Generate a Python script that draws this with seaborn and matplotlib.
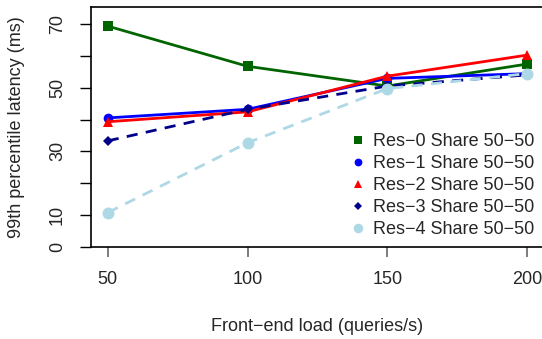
import numpy as np
import pandas as pd
import matplotlib
matplotlib.use("Agg")
import matplotlib.pyplot as plt
import seaborn as sns
from matplotlib.lines import Line2D

sns.set_style("white")
plt.rcParams['font.family'] = ['Liberation Sans', 'DejaVu Sans']

loads = [50, 100, 150, 200]
series_names = ["Res\u22120 Share 50\u221250", "Res\u22121 Share 50\u221250",
                "Res\u22122 Share 50\u221250", "Res\u22123 Share 50\u221250",
                "Res\u22124 Share 50\u221250"]
res0 = [69.3, 56.7, 50.5, 57.4]
res1 = [40.5, 43.2, 52.9, 54.4]
res2 = [39.3, 42.4, 53.6, 60.2]
res3 = [33.3, 43.2, 50.5, 54.0]
res4 = [10.8, 32.7, 49.7, 54.4]
yticks = [0, 10, 20, 30, 40, 50, 60, 70]
ytick_labels = ["0", "10", "", "30", "", "50", "", "70"]
xticks = [50, 100, 150, 200]

values = [res0, res1, res2, res3, res4]
colors = ["#006400", "#0000FF", "#FF0000", "#00008B", "#ADD8E6"]
markers = ["s", "o", "^", "D", "o"]
msizes = [7.0, 7.0, 7.8, 4.8, 8.6]
styles = ["-", "-", "-", (0, (4, 3)), (0, (4, 3))]

df = pd.DataFrame({
    "load": loads * len(series_names),
    "latency": sum(values, []),
    "series": sum([[n] * len(loads) for n in series_names], []),
})

fig = plt.figure(figsize=(5.42, 3.39), dpi=100)
fig.patch.set_facecolor("white")
ax = fig.add_axes([91/542, 92/339, 469/542, 240/339])

for name, c, m, ms, ls in zip(series_names, colors, markers, msizes, styles):
    sub = df[df["series"] == name]
    sns.lineplot(data=sub, x="load", y="latency", ax=ax, color=c, linewidth=2,
                 linestyle=ls, legend=False)
    ax.plot(sub["load"], sub["latency"], linestyle="none", marker=m, color=c,
            markersize=ms, markeredgewidth=0)

ax.set_xlim(44, 211.8)
ax.set_ylim(0, 75.3)
ax.set_xticks(xticks)
ax.set_xticklabels([str(x) for x in xticks], fontsize=13)
ax.set_yticks(yticks)
ax.set_yticklabels(ytick_labels, fontsize=13, rotation=90, va="center")
ax.tick_params(axis="y", direction="out", length=8, width=1, color="black", pad=10, left=True)
ax.tick_params(axis="x", direction="out", length=7.5, width=1.2, color="#666666", pad=10, bottom=True)
for s in ["left", "bottom", "top"]:
    ax.spines[s].set_visible(True)
    ax.spines[s].set_color("black")
    ax.spines[s].set_linewidth(1.2)
ax.spines["right"].set_visible(False)
ax.set_xlabel("Front\u2212end load (queries/s)", fontsize=13)
ax.xaxis.set_label_coords(0.482, -0.296)
ax.set_ylabel("99th percentile latency (ms)", fontsize=13, labelpad=17)

handles = [Line2D([0], [0], linestyle="none", marker=m, color=c,
                  markersize=ms * 0.8, markeredgewidth=0)
           for c, m, ms in zip(colors, markers, msizes)]
leg = ax.legend(handles, series_names, loc="lower right",
                bbox_to_anchor=(534/542, 101/339), bbox_transform=fig.transFigure,
                frameon=False, fontsize=13, handletextpad=0.3, handlelength=1.0,
                labelspacing=0.27, borderaxespad=0, borderpad=0)

fig.savefig("out.png", dpi=100)
